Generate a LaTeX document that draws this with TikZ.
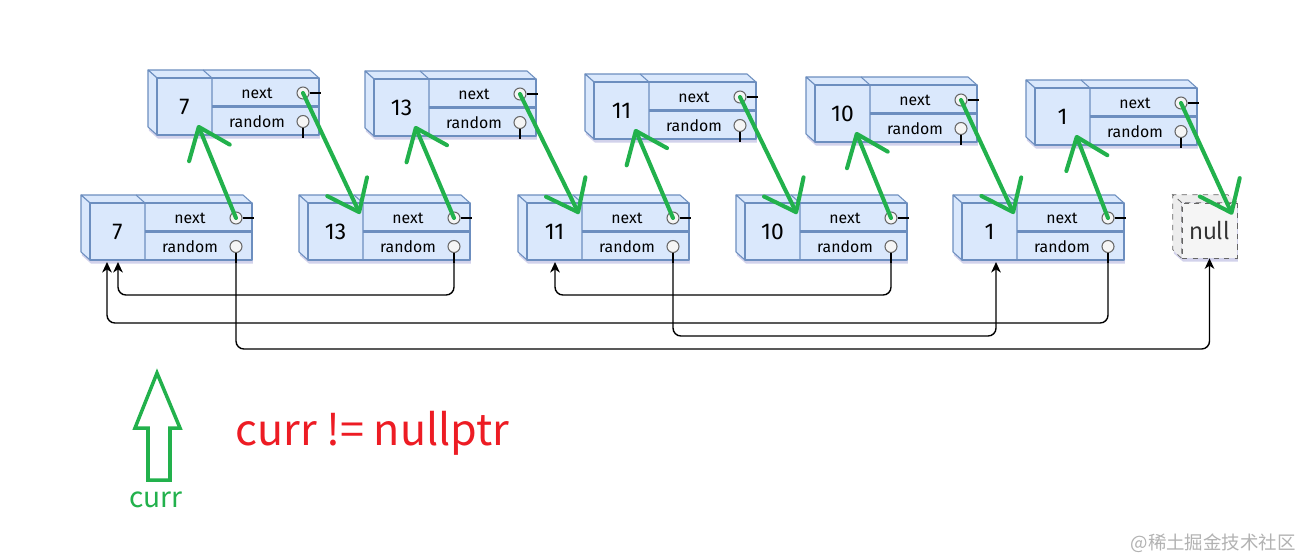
\documentclass[tikz,border=0pt]{standalone}
\usepackage{fontspec}
\setmainfont{Fira Sans}
\newfontfamily\cjkfont{Noto Sans CJK SC}
\usetikzlibrary{arrows.meta,calc,shadows}

\definecolor{boxfill}{HTML}{DAE8FC}
\definecolor{boxdraw}{HTML}{6C8EBF}
\definecolor{pgreen}{HTML}{22B14C}
\definecolor{pred}{HTML}{ED1C24}

\tikzset{
  boxshadow/.style={drop shadow={shadow xshift=0.5pt,shadow yshift=-2pt,opacity=0.25,fill=blue!40!gray}},
  boxface/.style={fill=boxfill,draw=boxdraw,line width=0.6pt,line join=round},
  boxline/.style={draw=boxdraw,line width=0.6pt},
  boxsep/.style={draw=boxdraw,line width=1.6pt},
  boxstub/.style={draw=black,line width=0.6pt},
  valtext/.style={font=\fontsize{13}{15}\selectfont},
  fieldtext/.style={font=\fontsize{9}{11}\selectfont},
  ptrdot/.style={circle,draw=black!60,fill=black!4,line width=0.6pt,minimum size=0.24cm,inner sep=0pt},
  nextptr/.style={draw=pgreen,line width=2.3pt,line cap=round,-{Straight Barb[length=16pt,width=25pt,round]}},
  randptr/.style={draw=black,line width=0.8pt,rounded corners=4.5pt,-{Stealth[length=6pt,width=5.5pt,inset=1.8pt]}}
}

% one list element drawn as a box; #1 name, (#2,#3) front top-left, #4 value
\newcommand{\listbox}[4]{%
  \begin{scope}[shift={(#2,#3)}]
    \path[boxshadow] (-9,-8) -- (153,-8) -- (162,0) -- (162,57) -- (0,57) -- (-9,49) -- cycle;
    \draw[boxface] (-9,-8) -- (153,-8) -- (162,0) -- (0,0) -- cycle;
    \draw[boxface] (-9,-8) -- (0,0) -- (0,57) -- (-9,49) -- cycle;
    \draw[boxface] (0,0) rectangle (162,57);
    \draw[boxline] (46,-8) -- (55,0) -- (55,57);
    \draw[boxsep] (55,28.5) -- (162,28.5);
    \node[valtext] (#1-val) at (27.5,29) {#4};
    \node[fieldtext] (#1-ntext) at (100,15) {next};
    \node[fieldtext] (#1-rtext) at (100,43.5) {random};
    \node[ptrdot] (#1-next) at (146,15) {};
    \node[ptrdot] (#1-rand) at (146,43.5) {};
    \draw[boxstub] (#1-next.east) -- ++(11,0);
    \draw[boxstub] (#1-rand.south) -- ++(0,10);
    \coordinate (#1-up) at (41,47);
    \coordinate (#1-down) at (52,11);
    \coordinate (#1-ra) at (17,59);
    \coordinate (#1-rb) at (28,59);
    \coordinate (#1-rc) at (34,59);
  \end{scope}}

\begin{document}
\begin{tikzpicture}[x=0.02cm,y=-0.02cm]
  \useasboundingbox[fill=white] (0,0) rectangle (1301,559);

  % copied list (top row)
  \listbox{t1}{157}{78}{7}
  \listbox{t2}{374}{79}{13}
  \listbox{t3}{594}{82}{11}
  \listbox{t4}{815}{85}{10}
  \listbox{t5}{1035}{88}{1}

  % original list (bottom row)
  \listbox{b1}{90}{203}{7}
  \listbox{b2}{308}{203}{13}
  \listbox{b3}{527}{203}{11}
  \listbox{b4}{745}{203}{10}
  \listbox{b5}{962}{203}{1}

  % null
  \path[boxshadow] (1173,195) -- (1228,195) -- (1237,203) -- (1237,258) -- (1182,258) -- (1173,250) -- cycle;
  \node[draw=black!60,dashed,fill=black!4,minimum width=1.1cm,minimum height=1.1cm,inner sep=0pt,
    font=\cjkfont\fontsize{13}{15}\selectfont,text=black!80] (null) at (1209.5,230.5) {null};
  \draw[dashed,draw=black!60,fill=black!7] (null.north west) -- ++(-9,-8) -- ++(55,0) -- (null.north east) -- cycle;
  \draw[dashed,draw=black!60,fill=black!7] (null.north west) -- ++(-9,-8) -- ++(0,55) -- (null.south west) -- cycle;
  \coordinate (null-down) at ($(null.north east)+(-5,12)$);

  % random pointers
  \draw[randptr] (b1-rand.south) -- (b1-rand.south |- 0,349) -| (null.south);
  \draw[randptr] (b2-rand.south) -- (b2-rand.south |- 0,295) -| (b1-rb);
  \draw[randptr] (b3-rand.south) -- (b3-rand.south |- 0,336) -| (b5-rc);
  \draw[randptr] (b4-rand.south) -- (b4-rand.south |- 0,295) -| (b3-rb);
  \draw[randptr] (b5-rand.south) -- (b5-rand.south |- 0,323) -| (b1-ra);

  % next pointers after splitting
  \draw[nextptr] (b1-next.center) -- (t1-up);
  \draw[nextptr] (b2-next.center) -- (t2-up);
  \draw[nextptr] (b3-next.center) -- (t3-up);
  \draw[nextptr] (b4-next.center) -- (t4-up);
  \draw[nextptr] (b5-next.center) -- (t5-up);
  \draw[nextptr] (t1-next.center) -- (b2-down);
  \draw[nextptr] (t2-next.center) -- (b3-down);
  \draw[nextptr] (t3-next.center) -- (b4-down);
  \draw[nextptr] (t4-next.center) -- (b5-down);
  \draw[nextptr] (t5-next.center) -- (null-down);

  % curr
  \draw[pgreen,line width=2pt,line join=miter] (157,373) -- (180,428) -- (170,428) -- (170,480) -- (148,480) -- (148,428) -- (135,428) -- cycle;
  \node[text=pgreen,font=\cjkfont\fontsize{16}{18}\selectfont] (curr) at (156,500) {curr};
  \node[text=pred,font=\cjkfont\fontsize{24.5}{28}\selectfont,anchor=base west,inner sep=0pt] (cond) at (235,445) {curr != nullptr};

  \node[text=black!30,font=\cjkfont\fontsize{10.5}{12}\selectfont,anchor=base east,inner sep=0pt] (mark) at (1296,549) {@稀土掘金技术社区};
\end{tikzpicture}
\end{document}
